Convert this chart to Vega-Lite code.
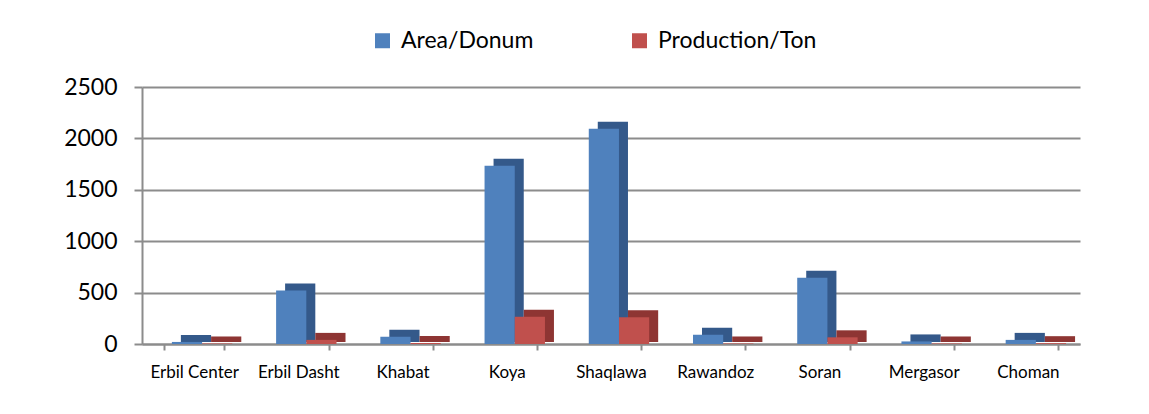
{
  "$schema": "https://vega.github.io/schema/vega-lite/v6.json",
  "autosize": "none",
  "width": 938,
  "height": 257,
  "padding": {"left": 142, "top": 87, "right": 69, "bottom": 70},
  "background": "white",
  "config": {
    "font": "Lato",
    "view": {"stroke": null},
    "axis": {"labelFont": "Lato", "labelColor": "#000000"}
  },
  "data": {
    "values": [
      {"district": "Erbil Center", "series": "Area/Donum", "value": 20},
      {"district": "Erbil Center", "series": "Production/Ton", "value": 5},
      {"district": "Erbil Dasht", "series": "Area/Donum", "value": 520},
      {"district": "Erbil Dasht", "series": "Production/Ton", "value": 40},
      {"district": "Khabat", "series": "Area/Donum", "value": 70},
      {"district": "Khabat", "series": "Production/Ton", "value": 10},
      {"district": "Koya", "series": "Area/Donum", "value": 1735},
      {"district": "Koya", "series": "Production/Ton", "value": 265},
      {"district": "Shaqlawa", "series": "Area/Donum", "value": 2095},
      {"district": "Shaqlawa", "series": "Production/Ton", "value": 260},
      {"district": "Rawandoz", "series": "Area/Donum", "value": 90},
      {"district": "Rawandoz", "series": "Production/Ton", "value": 5},
      {"district": "Soran", "series": "Area/Donum", "value": 645},
      {"district": "Soran", "series": "Production/Ton", "value": 65},
      {"district": "Mergasor", "series": "Area/Donum", "value": 25},
      {"district": "Mergasor", "series": "Production/Ton", "value": 5},
      {"district": "Choman", "series": "Area/Donum", "value": 40},
      {"district": "Choman", "series": "Production/Ton", "value": 8}
    ]
  },
  "encoding": {
    "x": {
      "field": "district",
      "type": "nominal",
      "sort": null,
      "scale": {"paddingInner": 0.42, "paddingOuter": 0.21},
      "axis": {
        "title": null,
        "labelAngle": 0,
        "labelFontSize": 17,
        "labelPadding": 14,
        "domainColor": "#8c8c8c",
        "domainWidth": 2,
        "tickColor": "#8c8c8c",
        "tickWidth": 2,
        "tickSize": 6,
        "tickBand": "extent",
        "grid": false
      }
    },
    "y": {
      "field": "value",
      "type": "quantitative",
      "scale": {"domain": [0, 2500], "nice": false},
      "axis": {
        "title": null,
        "format": "d",
        "values": [0, 500, 1000, 1500, 2000, 2500],
        "labelFontSize": 23,
        "labelPadding": 17,
        "domainColor": "#8c8c8c",
        "domainWidth": 2,
        "tickColor": "#8c8c8c",
        "tickWidth": 2,
        "tickSize": 8,
        "gridColor": "#8c8c8c",
        "gridWidth": 2
      }
    }
  },
  "layer": [
    {
      "mark": {"type": "bar", "yOffset": -7, "y2Offset": -2},
      "encoding": {
        "y2": {"datum": 0},
        "xOffset": {"field": "series", "type": "nominal", "scale": {"range": [17, 77.4], "paddingInner": 0, "paddingOuter": 0}},
        "color": {
          "field": "series",
          "type": "nominal",
          "scale": {"domain": ["Area/Donum", "Production/Ton"], "range": ["#34598a", "#8e3533"]},
          "legend": null
        }
      }
    },
    {
      "mark": {"type": "bar"},
      "encoding": {
        "xOffset": {"field": "series", "type": "nominal", "scale": {"range": [8, 68.4], "paddingInner": 0, "paddingOuter": 0}},
        "color": {
          "field": "series",
          "type": "nominal",
          "scale": {"domain": ["Area/Donum", "Production/Ton"], "range": ["#4f81bd", "#c0504d"]},
          "legend": {
            "title": null,
            "orient": "none",
            "direction": "horizontal",
            "legendX": 229,
            "legendY": -58,
            "symbolType": "square",
            "symbolSize": 225,
            "symbolStrokeWidth": 0,
            "labelFontSize": 23,
            "labelOffset": 7,
            "columnPadding": 94,
            "labelColor": "#000000"
          }
        }
      }
    }
  ],
  "resolve": {"scale": {"color": "independent", "xOffset": "independent"}}
}
